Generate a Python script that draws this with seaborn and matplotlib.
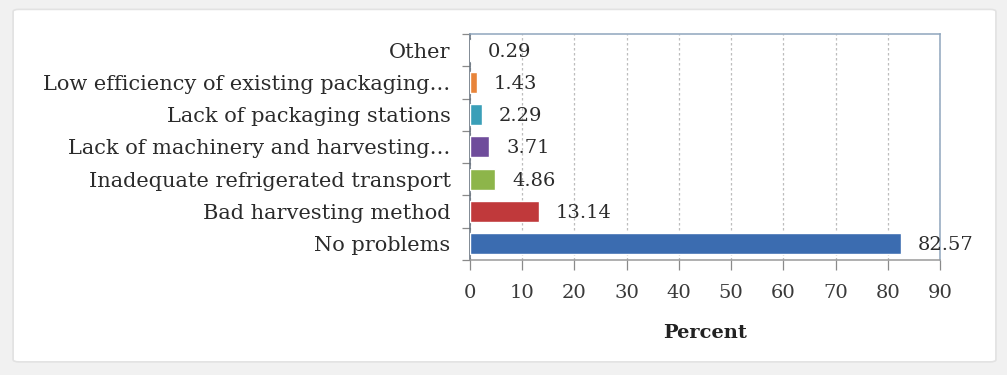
import matplotlib
matplotlib.use("Agg")
import matplotlib.pyplot as plt
import seaborn as sns
import pandas as pd
from matplotlib.patches import FancyBboxPatch
from matplotlib.ticker import FixedLocator

categories = [
    "Other",
    "Low efficiency of existing packaging\u2026",
    "Lack of packaging stations",
    "Lack of machinery and harvesting\u2026",
    "Inadequate refrigerated transport",
    "Bad harvesting method",
    "No problems",
]
percent = [0.29, 1.43, 2.29, 3.71, 4.86, 13.14, 82.57]
colors = ["#2c4d75", "#e8843a", "#3a9fb8", "#6f4c9b", "#8db54a", "#c0393b", "#3b6cb0"]
x_ticks = [0, 10, 20, 30, 40, 50, 60, 70, 80, 90]

sns.set_theme(style="white")
plt.rcParams["font.family"] = ["DejaVu Serif"]

df = pd.DataFrame({"category": categories, "percent": percent})

fig = plt.figure(figsize=(10.07, 3.75), dpi=100, facecolor="#f1f1f1")
card = FancyBboxPatch((0.013, 0.035), 0.976, 0.94, transform=fig.transFigure,
                      boxstyle="round,pad=0,rounding_size=0.006",
                      facecolor="white", edgecolor="#e2e2e2", linewidth=1.2, zorder=-10)
fig.patches.append(card)

ax = fig.add_axes([0.4667, 0.3067, 0.4668, 0.6027])
ax.set_zorder(1)
ax.patch.set_alpha(0)
sns.barplot(data=df, y="category", x="percent", hue="category", palette=colors,
            order=categories, hue_order=categories, legend=False, width=0.65,
            saturation=1, ax=ax, zorder=3)

ax.set_xlim(0, 90)
ax.set_ylim(len(categories) - 0.5, -0.5)
ax.set_xticks(x_ticks)
ax.set_xticklabels([str(t) for t in x_ticks])
ax.set_axisbelow(True)
ax.xaxis.grid(True, color="#bdbdbd", linestyle=(0, (2, 2)), linewidth=0.9)
ax.yaxis.grid(False)

# category dividers as small ticks on the left axis
ax.yaxis.set_minor_locator(FixedLocator([i + 0.5 for i in range(-1, len(categories))]))
ax.tick_params(axis="y", which="major", left=True, length=0, pad=14, labelsize=15,
               labelcolor="#2b2b2b")
ax.tick_params(axis="y", which="minor", left=True, length=6, width=0.9, color="#8a8a8a",
               direction="out")
ax.tick_params(axis="x", which="major", bottom=True, length=7, width=0.9, color="#8a8a8a",
               direction="out", pad=10, labelsize=14, labelcolor="#3a3a3a")

ax.set_ylabel("")
ax.set_xlabel("Percent", fontsize=14, fontweight="bold", color="#222222", labelpad=16)

for side, col in [("left", "#5f6b78"), ("bottom", "#9a9a9a"), ("top", "#8fa6bd"), ("right", "#8fa6bd")]:
    ax.spines[side].set_visible(True)
    ax.spines[side].set_color(col)
    ax.spines[side].set_linewidth(1.1)

for i, v in enumerate(percent):
    ax.annotate(f"{v:.2f}", xy=(v, i), xytext=(12, -1), textcoords="offset points",
                va="center", ha="left", fontsize=14, color="#2b2b2b",
                annotation_clip=False, zorder=5)

fig.savefig("out.png", dpi=100, facecolor=fig.get_facecolor())
